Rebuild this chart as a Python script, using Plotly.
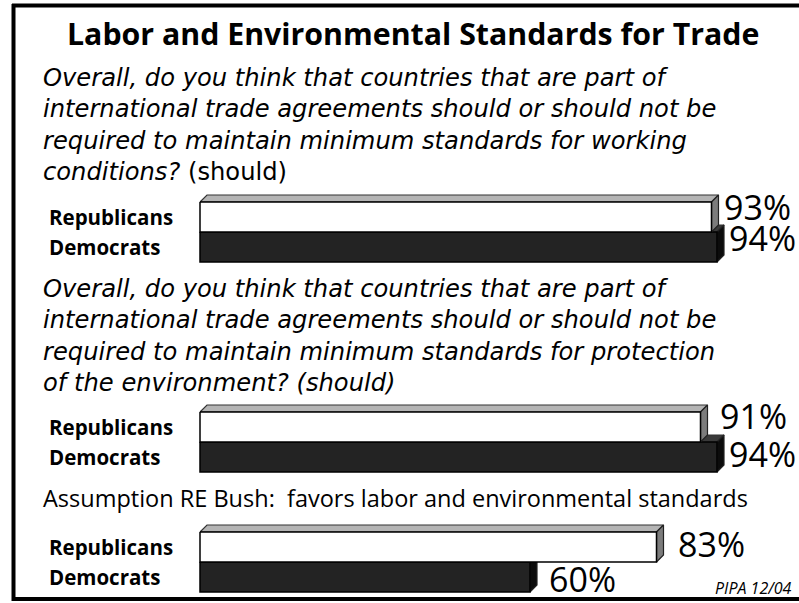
import plotly.graph_objects as go

# ---- data -------------------------------------------------------------
title = "Labor and Environmental Standards for Trade"
question_lines = [
    ["<i>Overall, do you think that countries that are part of</i>",
     "<i>international trade agreements should or should not be</i>",
     "<i>required to maintain minimum standards for working</i>",
     "<i>conditions?</i> (should)"],
    ["<i>Overall, do you think that countries that are part of</i>",
     "<i>international trade agreements should or should not be</i>",
     "<i>required to maintain minimum standards for protection</i>",
     "<i>of the environment? (should)</i>"],
]
assumption = "Assumption RE Bush:  favors labor and environmental standards"
parties = ["Republicans", "Democrats"]
republicans = [93, 91, 83]
democrats = [94, 94, 60]
source_note = "PIPA 12/04"

# ---- page geometry (pixels) --------------------------------------------
W, H = 799, 603
X0_PX = 200          # pixel where 0% sits
PX_PER_PCT = 5.5     # pixels per percentage point
BAR_H = 30           # height of each bar face
DEPTH = 7            # 3-D extrusion depth in pixels
DX = DEPTH / PX_PER_PCT
group_top = [202, 412, 532]          # top of the Republican bar in each block
question_center = [124.5, 335.5]     # vertical centre of each question paragraph
# nudges (pixels) for the value labels: [Republicans, Democrats] per block
label_dx = [[3, 3], [10, 3], [12, 10]]
label_dy = [[-10, -9], [-11, -3], [-3, 2]]

FONT = "Open Sans"
Q_FONT = "DejaVu Sans"
colors = {
    "Republicans": dict(front="#ffffff", top="#b4b4b4", side="#7c7c7c"),
    "Democrats": dict(front="#232323", top="#3a3a3a", side="#0c0c0c"),
}


def px(x):
    return x / W


fig = go.Figure()


def poly(xs, ys, fill, line="#000000", lw=1.2):
    fig.add_trace(go.Scatter(
        x=xs + [xs[0]], y=ys + [ys[0]], mode="lines", fill="toself",
        fillcolor=fill, line=dict(color=line, width=lw),
        hoverinfo="skip", showlegend=False))


def bar3d(value, top, party):
    c = colors[party]
    bot = top + BAR_H
    # top face
    poly([0, DX, value + DX, value], [top, top - DEPTH, top - DEPTH, top], c["top"], "#333333")
    # right side face
    poly([value, value + DX, value + DX, value], [top, top - DEPTH, bot - DEPTH, bot], c["side"], "#222222")
    # front face
    poly([0, value, value, 0], [top, top, bot, bot], c["front"], "#000000", 1.5)


# Democrats first so the Republican bar sits on top of it
for i in range(3):
    top = group_top[i]
    bar3d(democrats[i], top + BAR_H, "Democrats")
    bar3d(republicans[i], top, "Republicans")

annotations = []

# title
annotations.append(dict(x=px(413), y=33, xref="paper", yref="y", text=f"<b>{title}</b>",
                        showarrow=False, xanchor="center", yanchor="middle",
                        font=dict(family=FONT, size=30.3, color="#000000")))

# question paragraphs
for lines, yc in zip(question_lines, question_center):
    annotations.append(dict(x=px(41), y=yc, xref="paper", yref="y",
                            text="<br>".join(lines), align="left",
                            showarrow=False, xanchor="left", yanchor="middle",
                            font=dict(family=Q_FONT, size=24.2, color="#000000")))

annotations.append(dict(x=px(41), y=498, xref="paper", yref="y", text=assumption,
                        showarrow=False, xanchor="left", yanchor="middle",
                        font=dict(family=FONT, size=23.5, color="#000000")))

# party labels and value labels
for i in range(3):
    top = group_top[i]
    for j, (party, vals) in enumerate(zip(parties, [republicans, democrats])):
        cy = top + BAR_H * j + BAR_H / 2
        annotations.append(dict(x=px(47), y=cy, xref="paper", yref="y",
                                text=f"<b>{party}</b>", showarrow=False,
                                xanchor="left", yanchor="middle",
                                font=dict(family=FONT, size=20.5, color="#000000")))
        annotations.append(dict(x=vals[i] + DX, y=cy + label_dy[i][j],
                                xref="x", yref="y", text=f"{vals[i]}%",
                                showarrow=False, xanchor="left", yanchor="middle",
                                xshift=label_dx[i][j],
                                font=dict(family=FONT, size=34, color="#000000")))

annotations.append(dict(x=px(794), y=588, xref="paper", yref="y",
                        text=f"<i>{source_note}</i>", showarrow=False,
                        xanchor="right", yanchor="middle",
                        font=dict(family=FONT, size=16, color="#000000")))

# black frame (top, left and bottom edges)
frame = dict(type="line", xref="paper", yref="paper", line=dict(color="#000000", width=4))
shapes = [
    dict(frame, x0=px(12), x1=1.0, y0=1 - 5.5 / H, y1=1 - 5.5 / H),
    dict(frame, x0=px(13.5), x1=px(13.5), y0=1 - 4 / H, y1=1 - 601 / H),
    dict(frame, x0=px(12), x1=1.0, y0=1 - 599 / H, y1=1 - 599 / H),
]

fig.update_layout(
    width=W, height=H, autosize=False,
    margin=dict(l=0, r=0, t=0, b=0),
    paper_bgcolor="#ffffff", plot_bgcolor="#ffffff",
    xaxis=dict(range=[-X0_PX / PX_PER_PCT, (W - X0_PX) / PX_PER_PCT], visible=False, fixedrange=True),
    yaxis=dict(range=[H, 0], visible=False, fixedrange=True),
    annotations=annotations, shapes=shapes, showlegend=False,
)

fig.write_html("out.html")
